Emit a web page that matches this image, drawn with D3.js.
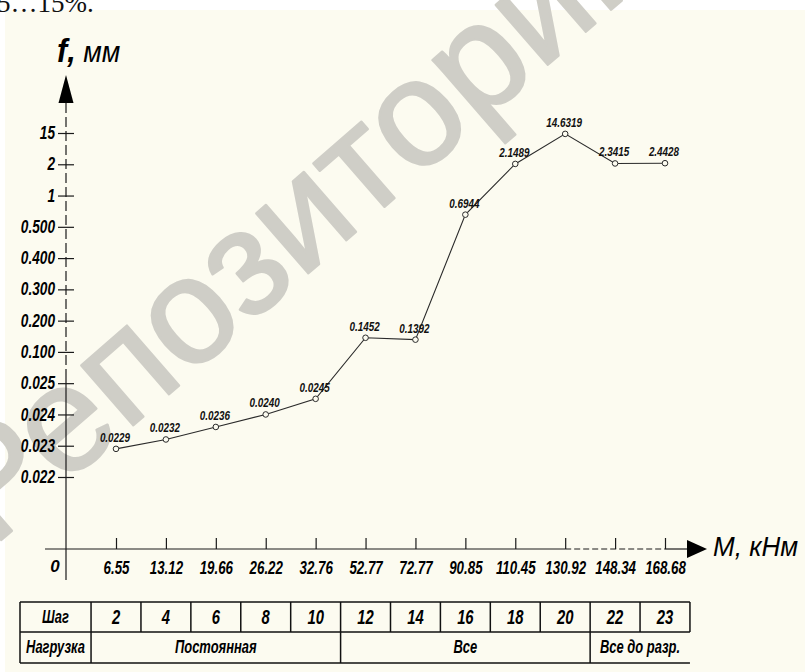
<!DOCTYPE html>
<html><head><meta charset="utf-8">
<script src="https://cdn.jsdelivr.net/npm/d3@7"></script>
<style>body{margin:0;background:#fff}svg{display:block}</style>
</head><body>
<script>
// ---- data ----
const xLabels = ["6.55","13.12","19.66","26.22","32.76","52.77","72.77","90.85","110.45","130.92","148.34","168.68"];
const values = [0.0229,0.0232,0.0236,0.0240,0.0245,0.1452,0.1392,0.6944,2.1489,14.6319,2.3415,2.4428];
const valueLabels = ["0.0229","0.0232","0.0236","0.0240","0.0245","0.1452","0.1392","0.6944","2.1489","14.6319","2.3415","2.4428"];
const yTicks = [0.022,0.023,0.024,0.025,0.100,0.200,0.300,0.400,0.500,1,2,15];
const yTickLabels = ["0.022","0.023","0.024","0.025","0.100","0.200","0.300","0.400","0.500","1","2","15"];
const steps = ["2","4","6","8","10","12","14","16","18","20","22","23"];
const loadNames = ["Постоянная","Все","Все до разр."];
const loadSpans = [5,5,2];
const yTitle = ["f,", " мм"];
const xTitle = "M, кНм";
const watermark = "Репозиторий";
const topText = "5…15%.";

// ---- layout ----
const W = 805, H = 672;
const axisX = 66, baseY = 549;
const sans = "'Liberation Sans',Arial,sans-serif";

function squeeze(sel, f){
  sel.each(function(){
    const w = this.getComputedTextLength();
    d3.select(this).attr("textLength", w*f).attr("lengthAdjust","spacingAndGlyphs");
  });
}

const svg = d3.select("body").append("svg").attr("width", W).attr("height", H);
svg.append("rect").attr("x",5).attr("y",10).attr("width",W-5).attr("height",H-10).attr("fill","#fcfbf0");
svg.append("text").attr("x",-3).attr("y",12).attr("font-family","'Liberation Serif','Times New Roman',serif")
  .attr("font-size",27).attr("fill","#111").text(topText);

// watermark
svg.append("text").attr("transform","translate(-8,548) rotate(-41)")
  .attr("font-family",sans).attr("font-size",150).attr("fill","#cfcec7")
  .attr("stroke","#cfcec7").attr("stroke-width",2.5).attr("stroke-linejoin","round").text(watermark);

// scales
const x = d3.scalePoint().domain(xLabels).range([116, 665]);
const yStep = (477 - 133) / (yTicks.length - 1);
const y = d3.scaleLinear().domain([0, ...yTicks]).range([baseY, ...yTicks.map((d,i) => 477 - i*yStep)]);

const ink = "#1a1a1a";

// y axis line
svg.append("line").attr("x1",axisX).attr("x2",axisX).attr("y1",103).attr("y2",375)
  .attr("stroke",ink).attr("stroke-width",1.2).attr("stroke-dasharray","10,4");
svg.append("line").attr("x1",axisX).attr("x2",axisX).attr("y1",375).attr("y2",580)
  .attr("stroke",ink).attr("stroke-width",1.2);
svg.append("path").attr("d",`M${axisX},75 L${axisX-7.5},103 L${axisX+7.5},103 Z`).attr("fill","#000");

// y axis ticks via d3 axis
const yAxis = svg.append("g").attr("transform",`translate(${axisX},0)`)
  .call(d3.axisLeft(y).tickValues(yTicks).tickSize(8).tickPadding(4)
        .tickFormat((d,i) => yTickLabels[i]));
yAxis.select(".domain").remove();
yAxis.selectAll(".tick line").attr("x1",-8).attr("x2",8).attr("stroke",ink).attr("stroke-width",1.2);
yAxis.selectAll(".tick text").attr("font-family",sans).attr("font-size",17.5)
  .attr("font-weight","bold").attr("font-style","italic").attr("fill","#000").attr("x",-11)
  .call(squeeze, 0.78);

// x axis line
const xa = x(xLabels[9]), xb = x(xLabels[11]);
svg.append("line").attr("x1",45).attr("x2",xa).attr("y1",baseY).attr("y2",baseY).attr("stroke",ink).attr("stroke-width",1.2);
svg.append("line").attr("x1",xa).attr("x2",xb).attr("y1",baseY).attr("y2",baseY).attr("stroke",ink).attr("stroke-width",1.2).attr("stroke-dasharray","6,3");
svg.append("line").attr("x1",xb).attr("x2",688).attr("y1",baseY).attr("y2",baseY).attr("stroke",ink).attr("stroke-width",1.2);
svg.append("path").attr("d",`M707,${baseY} L687,${baseY-9} L687,${baseY+9} Z`).attr("fill","#000");

const xAxis = svg.append("g").attr("transform",`translate(0,${baseY})`)
  .call(d3.axisBottom(x).tickSizeInner(-11).tickSizeOuter(0).tickPadding(12));
xAxis.select(".domain").remove();
xAxis.selectAll(".tick line").attr("stroke",ink).attr("stroke-width",1.2);
xAxis.selectAll(".tick text").attr("font-family",sans).attr("font-size",18)
  .attr("font-weight","bold").attr("font-style","italic").attr("fill","#000")
  .call(squeeze, 0.74);

// origin label
svg.append("text").attr("x",55).attr("y",572).attr("text-anchor","middle").attr("font-family",sans)
  .attr("font-size",17).attr("font-weight","bold").attr("font-style","italic").text("0");

// axis titles
const yt = svg.append("text").attr("x",57).attr("y",62).attr("font-family",sans).attr("font-size",30).attr("font-style","italic");
yt.append("tspan").attr("font-weight","bold").attr("font-size",34).text(yTitle[0]);
yt.append("tspan").attr("xml:space","preserve").text(yTitle[1]);
squeeze(yt, 0.9);
svg.append("text").attr("x",713).attr("y",556).attr("font-family",sans).attr("font-size",28)
  .attr("font-style","italic").text(xTitle).call(squeeze, 0.93);

// line + points
const pts = values.map((v,i) => ({x: x(xLabels[i]), y: y(v), label: valueLabels[i]}));
svg.append("path").datum(pts).attr("d", d3.line().x(d=>d.x).y(d=>d.y))
  .attr("fill","none").attr("stroke","#2a2a2a").attr("stroke-width",1.1);
svg.selectAll("circle.pt").data(pts).join("circle").attr("class","pt")
  .attr("cx",d=>d.x).attr("cy",d=>d.y).attr("r",2.8).attr("fill","#fcfbf0").attr("stroke","#2a2a2a").attr("stroke-width",1);
svg.selectAll("text.vl").data(pts).join("text").attr("class","vl")
  .attr("x",d=>d.x-1).attr("y",d=>d.y-7).attr("text-anchor","middle")
  .attr("font-family",sans).attr("font-size",13).attr("font-weight","bold").attr("font-style","italic")
  .attr("fill","#111").text(d=>d.label).call(squeeze, 0.76);

// table
const step = x.step();
const tLeft = 20, tFirst = x(xLabels[0]) - step/2, tRight = x(xLabels[11]) + step/2;
const r0 = 602, r1 = 632, r2 = 663;
const tg = svg.append("g").attr("stroke","#111").attr("stroke-width",1.5);
[r0,r1,r2].forEach(yy => tg.append("line").attr("x1",tLeft).attr("x2",tRight).attr("y1",yy).attr("y2",yy));
tg.append("line").attr("x1",tLeft).attr("x2",tLeft).attr("y1",r0).attr("y2",r2);
tg.append("line").attr("x1",tFirst).attr("x2",tFirst).attr("y1",r0).attr("y2",r2);
xLabels.forEach((d,i) => {
  const xr = x(d) + step/2;
  tg.append("line").attr("x1",xr).attr("x2",xr).attr("y1",r0).attr("y2",r1);
});
function ttext(xx, yy, s, size){
  svg.append("text").attr("x",xx).attr("y",yy).attr("text-anchor","middle").attr("font-family",sans)
    .attr("font-size",size).attr("font-weight","bold").attr("font-style","italic").attr("fill","#000").text(s)
    .call(squeeze, 0.74);
}
ttext((tLeft+tFirst)/2, 623, "Шаг", 17.5);
ttext((tLeft+tFirst)/2, 653, "Нагрузка", 17.5);
steps.forEach((s,i) => ttext(x(xLabels[i]), 624, s, 20));
let acc = 0;
loadSpans.forEach((n,k) => {
  const a = tFirst + acc*step, b = tFirst + (acc+n)*step;
  if (acc > 0) tg.append("line").attr("x1",a).attr("x2",a).attr("y1",r1).attr("y2",r2);
  ttext((a+b)/2, 653, loadNames[k], 17.5);
  acc += n;
});
</script>
</body></html>
